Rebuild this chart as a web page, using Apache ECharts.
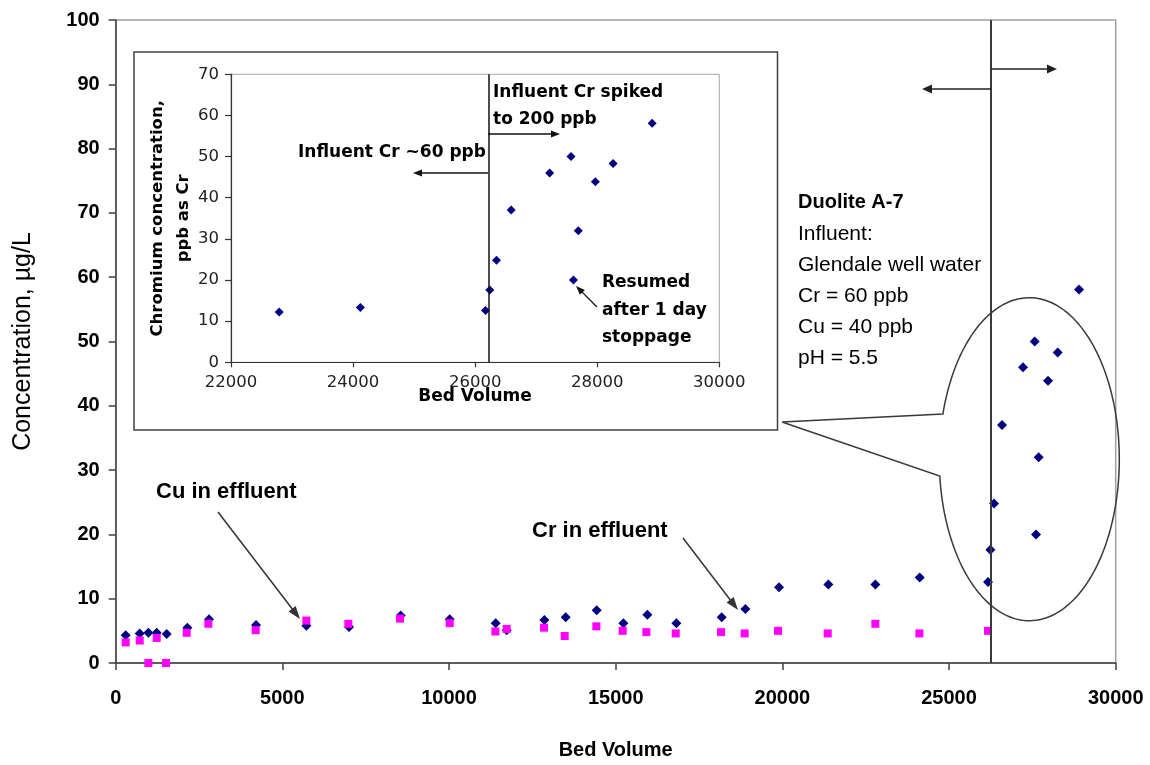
<!DOCTYPE html>
<html>
<head>
<meta charset="utf-8">
<script src="https://cdn.jsdelivr.net/npm/echarts@6/dist/echarts.min.js"></script>
<style>
  html, body { margin: 0; padding: 0; background: #ffffff; }
  #chart { width: 1150px; height: 765px; }
</style>
</head>
<body>
<div id="chart"></div>
<script>
// Chromium in effluent (bed volumes, µg/L)
const crBedVolume = [300, 720, 980, 1230, 1530, 2150, 2800, 4210, 5720, 7000,
  8550, 10020, 11400, 11730, 12860, 13500, 14430, 15230, 15950, 16820,
  18180, 18890, 19900, 21380, 22790, 24120, 26170, 26240, 26350, 26590,
  27220, 27570, 27610, 27690, 27970, 28260, 28900];
const crConc = [4.3, 4.6, 4.7, 4.7, 4.5, 5.5, 6.8, 5.9, 5.8, 5.6,
  7.4, 6.8, 6.2, 5.1, 6.7, 7.1, 8.2, 6.2, 7.5, 6.2,
  7.1, 8.4, 11.8, 12.2, 12.2, 13.3, 12.6, 17.6, 24.8, 37.0,
  46.0, 50.0, 20.0, 32.0, 43.9, 48.3, 58.1];

// Copper in effluent (bed volumes, µg/L)
const cuBedVolume = [300, 720, 980, 1230, 1510, 2130, 2780, 4200, 5720, 6980,
  8530, 10020, 11390, 11730, 12850, 13470, 14420, 15210, 15920, 16800,
  18160, 18870, 19870, 21360, 22790, 24110, 26170];
const cuConc = [3.2, 3.5, 0, 3.9, 0, 4.7, 6.1, 5.1, 6.6, 6.1,
  6.9, 6.2, 4.9, 5.3, 5.5, 4.2, 5.7, 5.0, 4.8, 4.6,
  4.8, 4.6, 5.0, 4.6, 6.1, 4.6, 5.0];

// Bed volume where the influent Cr was spiked
const spikeBedVolume = 26250;
const insetSpikeBedVolume = 26220;

// Axis ranges
const mainX = { min: 0, max: 30000, step: 5000 };
const mainY = { min: 0, max: 100, step: 10 };
const insetX = { min: 22000, max: 30000, step: 2000 };
const insetY = { min: 0, max: 70, step: 10 };

const ARIAL = '"Liberation Sans", Arial, sans-serif';
const WIDE = '"DejaVu Sans", Verdana, sans-serif';

const crPoints = crBedVolume.map((x, i) => [x, crConc[i]]);
const cuPoints = cuBedVolume.map((x, i) => [x, cuConc[i]]);
const insetPoints = crPoints.filter(p => p[0] >= insetX.min && p[0] <= insetX.max);

const plain = v => String(v);

// straight arrow with a filled triangular head at (x2, y2)
function arrow(x1, y1, x2, y2, len, wid, color, lw) {
  const dx = x2 - x1, dy = y2 - y1;
  const d = Math.sqrt(dx * dx + dy * dy);
  const ux = dx / d, uy = dy / d;
  const bx = x2 - ux * len, by = y2 - uy * len;
  const px = -uy * wid / 2, py = ux * wid / 2;
  return [
    { type: 'line', silent: true, z: 50,
      shape: { x1: x1, y1: y1, x2: bx + ux * 1, y2: by + uy * 1 },
      style: { stroke: color, lineWidth: lw } },
    { type: 'polygon', silent: true, z: 50,
      shape: { points: [[x2, y2], [bx + px, by + py], [bx - px, by - py]] },
      style: { fill: color } }
  ];
}

// oval callout around the breakthrough points, pointing to the inset
function ovalCallout(cx, cy, rx, ry, tip, yUpper, yLower) {
  const t1 = Math.PI + Math.asin((cy - yUpper) / ry);
  const t2 = Math.PI - Math.asin((yLower - cy) / ry) + 2 * Math.PI;
  const pts = [tip];
  const n = 200;
  for (let i = 0; i <= n; i++) {
    const t = t1 + (t2 - t1) * i / n;
    pts.push([cx + rx * Math.cos(t), cy + ry * Math.sin(t)]);
  }
  pts.push(tip);
  return { type: 'polyline', silent: true, z: 40,
    shape: { points: pts },
    style: { stroke: '#3a3a3a', lineWidth: 1.5, fill: null } };
}

function label(text, x, y, font, opts) {
  return {
    type: 'text', silent: true, z: 60,
    style: Object.assign({
      text: text, x: x, y: y, font: font, fill: '#000',
      align: 'left', verticalAlign: 'middle',
      textAlign: 'left', textVerticalAlign: 'middle'
    }, opts || {})
  };
}

// inset y title, rotated to read bottom-to-top
const insetYTitle = label('Chromium concentration,\nppb as Cr', 0, 0, 'bold 16.5px ' + WIDE,
  { lineHeight: 26, align: 'center', textAlign: 'center' });
insetYTitle.x = 171;
insetYTitle.y = 218.3;
insetYTitle.rotation = Math.PI / 2;

const graphics = [
  // inset panel frame
  { type: 'rect', silent: true, z: -1,
    shape: { x: 134, y: 52, width: 643.5, height: 378 },
    style: { fill: '#ffffff', stroke: '#404040', lineWidth: 1.5 } },
  ovalCallout(1029.3, 459.2, 90, 161.5, [782, 422], 414, 476),
  ...arrow(991, 69, 1057, 69, 10, 9, '#222', 1.5),
  ...arrow(991, 89, 922, 89, 10, 9, '#222', 1.5),
  ...arrow(218, 512, 300, 619, 13, 9, '#333', 1.5),
  ...arrow(683, 538, 738, 610, 13, 9, '#333', 1.5),
  ...arrow(488, 173, 413, 173, 9, 7, '#111', 1.3),
  ...arrow(488, 134, 560, 134, 9, 7, '#111', 1.3),
  ...arrow(597, 307, 576, 286, 9, 7, '#111', 1.3),
  label('Cu in effluent', 156, 492, 'bold 22px ' + ARIAL),
  label('Cr in effluent', 532, 531, 'bold 22px ' + ARIAL),
  label('Duolite A-7', 798, 202, 'bold 20px ' + ARIAL),
  label('Influent:\nGlendale well water\nCr = 60 ppb\nCu = 40 ppb\npH = 5.5', 798, 296,
    '21px ' + ARIAL, { lineHeight: 31 }),
  label('Influent Cr ~60 ppb', 298, 153, 'bold 17px ' + WIDE),
  label('Influent Cr spiked\nto 200 ppb', 493, 106.5, 'bold 17px ' + WIDE, { lineHeight: 27 }),
  label('Resumed\nafter 1 day\nstoppage', 602, 310.5, 'bold 17px ' + WIDE, { lineHeight: 27.5 }),
  insetYTitle,
  label('Bed Volume', 475, 396.5, 'bold 17px ' + WIDE, { align: 'center', textAlign: 'center' })
];

const chart = echarts.init(document.getElementById('chart'), null, { renderer: 'canvas' });

chart.setOption({
  animation: false,
  backgroundColor: '#ffffff',
  grid: [
    { left: 115.7, top: 20, width: 1000, height: 648,
      show: true, borderColor: '#a0a0a0', borderWidth: 1.5, backgroundColor: 'transparent' },
    { left: 231, top: 74.3, width: 488.3, height: 288,
      show: true, borderColor: '#a8a8a8', borderWidth: 1, backgroundColor: 'transparent' }
  ],
  xAxis: [
    { gridIndex: 0, type: 'value', min: mainX.min, max: mainX.max, interval: mainX.step,
      name: 'Bed Volume', nameLocation: 'middle', nameGap: 77,
      nameTextStyle: { fontFamily: ARIAL, fontWeight: 'bold', fontSize: 20, color: '#000' },
      axisLine: { lineStyle: { color: '#404040', width: 1.5 } },
      axisTick: { show: true, inside: false, length: 7, lineStyle: { color: '#404040', width: 1.5 } },
      axisLabel: { fontFamily: ARIAL, fontWeight: 'bold', fontSize: 20, color: '#000', margin: 25,
        formatter: plain },
      splitLine: { show: false } },
    { gridIndex: 1, type: 'value', min: insetX.min, max: insetX.max, interval: insetX.step,
      axisLine: { lineStyle: { color: '#333', width: 1.2 } },
      axisTick: { show: true, inside: false, length: 5, lineStyle: { color: '#333', width: 1.2 } },
      axisLabel: { fontFamily: WIDE, fontSize: 16.5, color: '#222', margin: 12, formatter: plain },
      splitLine: { show: false } }
  ],
  yAxis: [
    { gridIndex: 0, type: 'value', min: mainY.min, max: mainY.max, interval: mainY.step,
      name: 'Concentration, µg/L', nameLocation: 'middle', nameGap: 80,
      nameTextStyle: { fontFamily: ARIAL, fontSize: 25, color: '#000' },
      axisLine: { show: true, lineStyle: { color: '#404040', width: 1.5 } },
      axisTick: { show: true, inside: false, length: 7, lineStyle: { color: '#404040', width: 1.5 } },
      axisLabel: { fontFamily: ARIAL, fontWeight: 'bold', fontSize: 20, color: '#000', margin: 16,
        formatter: plain },
      splitLine: { show: false } },
    { gridIndex: 1, type: 'value', min: insetY.min, max: insetY.max, interval: insetY.step,
      axisLine: { show: true, lineStyle: { color: '#333', width: 1.2 } },
      axisTick: { show: true, inside: false, length: 6, lineStyle: { color: '#333', width: 1.2 } },
      axisLabel: { fontFamily: WIDE, fontSize: 16.5, color: '#222', margin: 12, formatter: plain },
      splitLine: { show: false } }
  ],
  series: [
    { name: 'Cr', type: 'scatter', xAxisIndex: 0, yAxisIndex: 0, clip: false,
      symbol: 'diamond', symbolSize: 10, itemStyle: { color: '#000080', opacity: 1 },
      data: crPoints,
      markLine: { silent: true, symbol: ['none', 'none'], label: { show: false },
        lineStyle: { color: '#3a3a3a', width: 2, type: 'solid' },
        data: [{ xAxis: spikeBedVolume }] } },
    { name: 'Cu', type: 'scatter', xAxisIndex: 0, yAxisIndex: 0, clip: false,
      symbol: 'rect', symbolSize: 8, itemStyle: { color: '#ff00ff', opacity: 1 },
      data: cuPoints },
    { name: 'Cr inset', type: 'scatter', xAxisIndex: 1, yAxisIndex: 1,
      symbol: 'diamond', symbolSize: 9, itemStyle: { color: '#000080', opacity: 1 },
      data: insetPoints,
      markLine: { silent: true, symbol: ['none', 'none'], label: { show: false },
        lineStyle: { color: '#111', width: 1.5, type: 'solid' },
        data: [{ xAxis: insetSpikeBedVolume }] } }
  ],
  graphic: graphics
});
</script>
</body>
</html>
